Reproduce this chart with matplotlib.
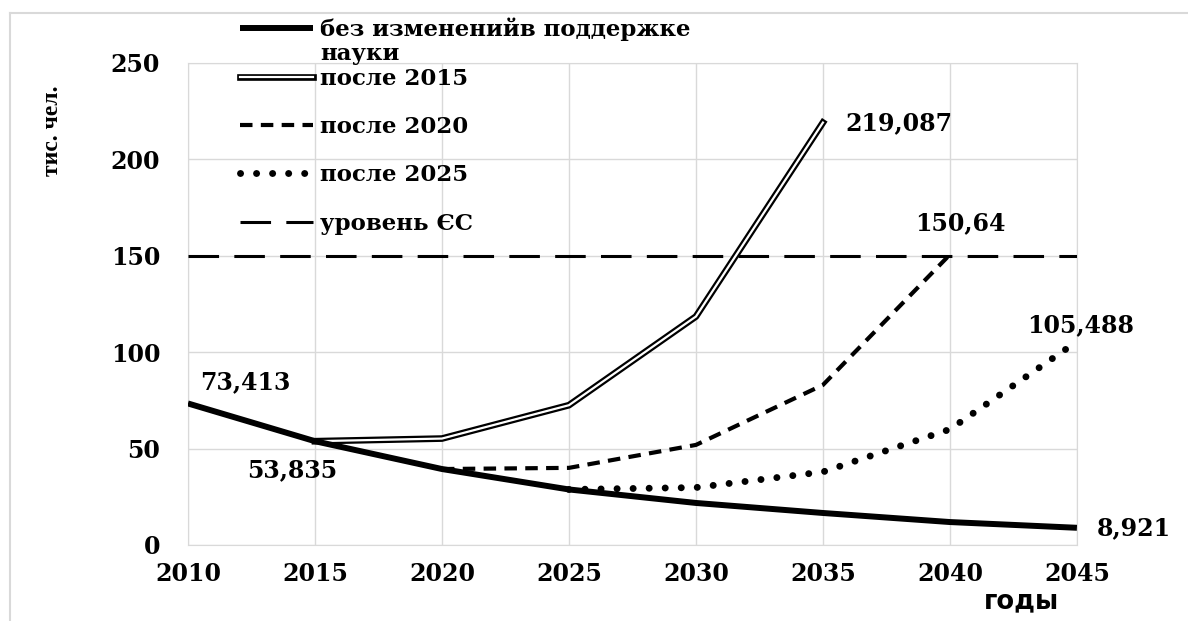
import numpy as np
import matplotlib
matplotlib.use('Agg')
import matplotlib.pyplot as plt
import matplotlib.patheffects as pe
from matplotlib.lines import Line2D

# Данные
years = [2010, 2015, 2020, 2025, 2030, 2035, 2040, 2045]
base = [73.413, 53.835, 39.4, 28.8, 21.8, 16.6, 11.9, 8.921]
after_2015_years = [2015, 2020, 2025, 2030, 2035]
after_2015 = [53.835, 55.2, 72.5, 118.5, 219.087]
after_2020_years = [2020, 2025, 2030, 2035, 2040]
after_2020 = [39.4, 40.0, 51.9, 83.0, 150.64]
after_2025_years = [2025, 2030, 2035, 2040, 2045]
after_2025 = [28.8, 29.8, 37.9, 60.0, 105.488]
eu_level = 150

labels = ['без измененийв поддержке', 'после 2015', 'после 2020',
          'после 2025', 'уровень ЄС']
label_wrap = 'науки'

serif = ['DejaVu Serif']

fig = plt.figure(figsize=(11.88, 6.21), dpi=100)
ax = fig.add_axes([0.1582, 0.1224, 0.7483, 0.7762])

l_base, = ax.plot(years, base, color='black', lw=4.3, solid_capstyle='butt', zorder=5)
l15, = ax.plot(after_2015_years, after_2015, color='white', lw=1.6, zorder=4,
               path_effects=[pe.Stroke(linewidth=4.8, foreground='black'), pe.Normal()])
l20, = ax.plot(after_2020_years, after_2020, color='black', lw=3, ls=(0, (3, 2)), zorder=4)
l25, = ax.plot(after_2025_years, after_2025, color='black', lw=5, ls=(0, (0.01, 2.3)),
               dash_capstyle='round', zorder=4)
leu = ax.axhline(eu_level, color='black', lw=2.2, ls=(0, (10, 5)), zorder=3)

ax.set_xlim(2010, 2045)
ax.set_ylim(0, 250)
ax.set_xticks(years)
ax.set_yticks([0, 50, 100, 150, 200, 250])
ax.grid(True, color='#d9d9d9', lw=1)
ax.set_axisbelow(True)
for s in ax.spines.values():
    s.set_color('#d9d9d9')
ax.tick_params(length=0)
ax.tick_params(axis='y', pad=20)
ax.tick_params(axis='x', pad=12)
for t in ax.get_xticklabels() + ax.get_yticklabels():
    t.set_fontfamily(serif)
    t.set_fontweight('bold')
    t.set_fontsize(17)

# подписи значений
kw = dict(family=serif, fontweight='bold', fontsize=17)
ax.text(2012.24, 84.5, '73,413', ha='center', va='center', **kw)
ax.text(2014.1, 39.0, '53,835', ha='center', va='center', **kw)
ax.text(2038.0, 219, '219,087', ha='center', va='center', **kw)
ax.text(2040.4, 167, '150,64', ha='center', va='center', **kw)
ax.text(2045.15, 114, '105,488', ha='center', va='center', **kw)
ax.text(2047.25, 8.8, '8,921', ha='center', va='center', clip_on=False, **kw)

fig.text(0.0438, 0.789, 'тис. чел.', family=['Liberation Serif', 'DejaVu Serif'],
         fontweight='bold', fontsize=17, rotation=90, ha='center', va='center')
fig.text(0.860, 0.021, 'годы', family=['DejaVu Sans'],
         fontweight='bold', fontsize=18.5, ha='center', va='baseline')

leg = fig.legend([l_base, l15, l20, l25, leu], labels, loc='upper left',
                 bbox_to_anchor=(0.1943, 0.986), frameon=False, handlelength=3.19,
                 handletextpad=0.3, labelspacing=1.15, borderaxespad=0,
                 prop=dict(family=serif, weight='bold', size=16.5))
fig.text(0.2694, 0.913, label_wrap, family=serif, fontweight='bold', fontsize=16.5,
         ha='left', va='center')

# рамка
fig.add_artist(Line2D([0.0084, 1.0], [0.979, 0.979], color='#d9d9d9', lw=1.5,
                      transform=fig.transFigure))
fig.add_artist(Line2D([0.0084, 0.0084], [0.0, 0.979], color='#d9d9d9', lw=1.5,
                      transform=fig.transFigure))

plt.savefig('out.png', dpi=100)
